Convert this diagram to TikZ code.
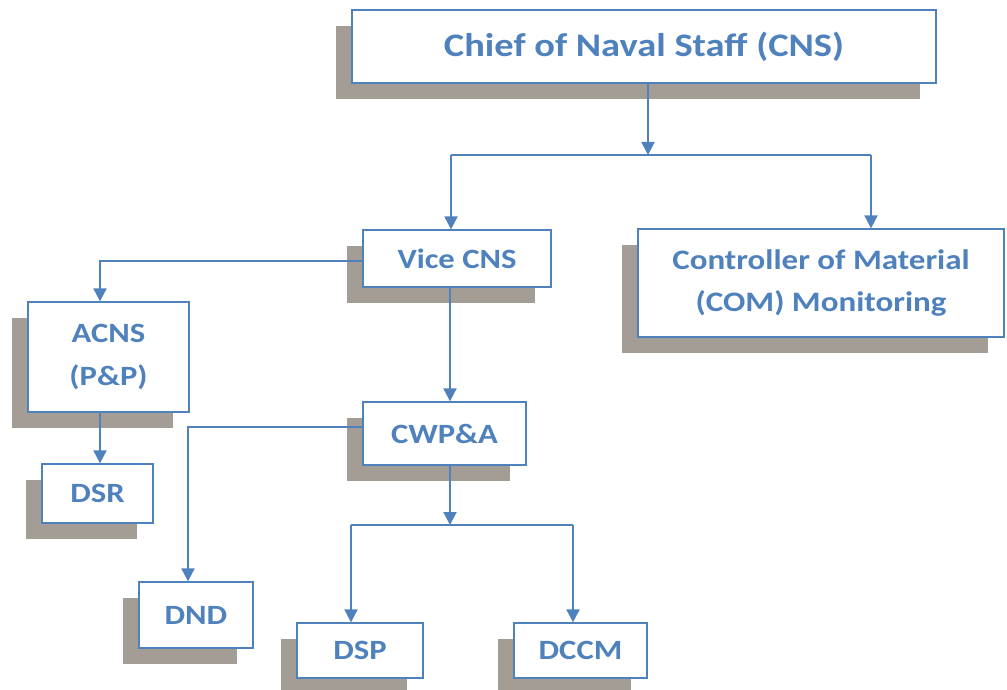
\documentclass[tikz,border=0pt]{standalone}
\usepackage{fontspec}
\setmainfont{Carlito}[FakeStretch=1.17]
\usetikzlibrary{arrows.meta,shadows}
\definecolor{accent}{HTML}{4F81BD}
\definecolor{shade}{HTML}{A39D96}
\tikzset{
  orgbox/.style={draw=accent, line width=1.3bp, fill=white, align=center,
    text=accent, font=\bfseries\fontsize{28}{43}\selectfont, inner sep=0pt,
    drop shadow={shadow xshift=-16bp, shadow yshift=-16bp, opacity=1, fill=shade}},
  link/.style={draw=accent, line width=2bp},
  linkarrow/.style={link, -{Triangle[length=13bp,width=13bp]}}
}
\begin{document}
\begin{tikzpicture}[x=1bp, y=-1bp]
\useasboundingbox (0,0) rectangle (1007,690);
% boxes
\node[orgbox, minimum width=584bp, minimum height=73bp, font=\bfseries\fontsize{33}{40}\selectfont] (cns) at (644,46.5) {Chief of Naval Staff (CNS)};
\node[orgbox, minimum width=188bp, minimum height=57bp] (vice) at (457,258.5) {Vice CNS};
\node[orgbox, minimum width=366bp, minimum height=108bp, font=\bfseries\fontsize{28.3}{42}\selectfont] (com) at (821,283) {Controller of Material\\(COM) Monitoring};
\node[orgbox, minimum width=161bp, minimum height=110bp] (acns) at (108.5,357) {ACNS\\(P\&P)};
\node[orgbox, minimum width=111bp, minimum height=59bp] (dsr) at (97.5,493.5) {DSR};
\node[orgbox, minimum width=163bp, minimum height=63bp] (cwpa) at (444.5,433.5) {CWP\&A};
\node[orgbox, minimum width=114bp, minimum height=66bp] (dnd) at (196,615) {DND};
\node[orgbox, minimum width=126bp, minimum height=55bp] (dsp) at (360,650.5) {DSP};
\node[orgbox, minimum width=133bp, minimum height=55bp] (dccm) at (580.5,650.5) {DCCM};
% junction points of the connectors
\coordinate (top) at (648,155);
\coordinate (topl) at (451,155);
\coordinate (topr) at (871,155);
\coordinate (acnsx) at (100,0);
\coordinate (vicex) at (450,0);
\coordinate (dndx) at (188,0);
\coordinate (low) at (450,525);
\coordinate (lowl) at (351,525);
\coordinate (lowr) at (573,525);
% connectors
\draw[linkarrow] (cns.south -| top) -- (top);
\draw[link] (topl) -- (topr);
\draw[linkarrow] (topl) -- (topl |- vice.north);
\draw[linkarrow] (topr) -- (topr |- com.north);
\draw[linkarrow] ([yshift=-2.5bp]vice.west) -| (acnsx |- acns.north);
\draw[linkarrow] (acnsx |- acns.south) -- (acnsx |- dsr.north);
\draw[linkarrow] (vicex |- vice.south) -- (vicex |- cwpa.north);
\draw[linkarrow] ([yshift=6.5bp]cwpa.west) -| (dndx |- dnd.north);
\draw[linkarrow] (low |- cwpa.south) -- (low);
\draw[link] (lowl) -- (lowr);
\draw[linkarrow] (lowl) -- (lowl |- dsp.north);
\draw[linkarrow] (lowr) -- (lowr |- dccm.north);
\end{tikzpicture}
\end{document}
